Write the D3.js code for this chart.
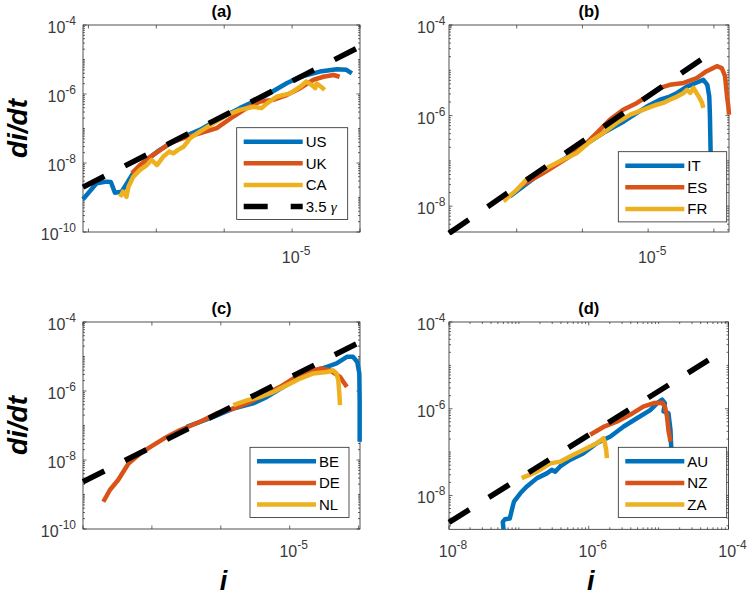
<!DOCTYPE html>
<html>
<head>
<meta charset="utf-8">
<script src="https://cdn.jsdelivr.net/npm/d3@7"></script>
<style>
  body { margin: 0; background: #fff; }
  svg { display: block; font-family: Helvetica, Arial, "Liberation Sans", sans-serif; }
</style>
</head>
<body>
<svg id="chart" width="747" height="598"></svg>
<script>
// points are [log10 i, log10 di/dt]
var US = [[-8.08,-9.05],[-7.88,-8.59],[-7.73,-8.54],[-7.67,-8.55],[-7.61,-8.86],[-7.51,-8.83],[-7.36,-8.35],[-7.14,-7.91],[-6.95,-7.62],[-6.70,-7.33],[-6.36,-7.04],[-6.06,-6.70],[-5.77,-6.41],[-5.42,-6.08],[-5.08,-5.69],[-4.88,-5.50],[-4.59,-5.35],[-4.34,-5.28],[-4.20,-5.30],[-4.12,-5.40]];
var UK = [[-7.36,-8.30],[-7.24,-8.06],[-7.09,-7.82],[-6.90,-7.57],[-6.81,-7.43],[-6.60,-7.28],[-6.36,-7.14],[-6.11,-6.99],[-5.87,-6.66],[-5.67,-6.41],[-5.47,-6.22],[-5.28,-6.17],[-5.08,-6.03],[-4.88,-5.83],[-4.69,-5.59],[-4.54,-5.50],[-4.39,-5.45],[-4.30,-5.50]];
var CA = [[-7.535,-8.98],[-7.49,-8.83],[-7.44,-8.98],[-7.41,-8.69],[-7.34,-8.40],[-7.24,-8.20],[-7.14,-8.06],[-7.07,-7.91],[-6.99,-8.06],[-6.90,-7.82],[-6.81,-7.67],[-6.75,-7.72],[-6.68,-7.62],[-6.60,-7.53],[-6.50,-7.28],[-6.36,-7.09],[-6.16,-6.85],[-5.96,-6.61],[-5.77,-6.46],[-5.57,-6.37],[-5.45,-6.41],[-5.37,-6.27],[-5.23,-6.08],[-5.03,-5.98],[-4.88,-5.79],[-4.79,-5.64],[-4.71,-5.74],[-4.66,-5.83],[-4.64,-5.69],[-4.56,-5.81],[-4.52,-5.88]];
var FIT_A = [[-8.08,-8.70],[-4.0,-4.63]];

var IT = [[-7.10,-7.78],[-6.695,-7.34],[-6.29,-6.97],[-5.88,-6.57],[-5.68,-6.38],[-5.37,-6.13],[-5.17,-5.94],[-5.02,-5.80],[-4.82,-5.65],[-4.67,-5.58],[-4.56,-5.50],[-4.41,-5.36],[-4.26,-5.27],[-4.16,-5.21],[-4.10,-5.32],[-4.07,-5.58],[-4.06,-6.02],[-4.05,-6.79],[-4.04,-7.85]];
var ES = [[-6.95,-7.56],[-6.595,-7.27],[-6.19,-6.90],[-5.99,-6.68],[-5.78,-6.38],[-5.58,-6.09],[-5.38,-5.87],[-5.17,-5.72],[-5.02,-5.58],[-4.82,-5.39],[-4.67,-5.32],[-4.46,-5.28],[-4.26,-5.17],[-4.11,-5.02],[-3.955,-4.91],[-3.88,-4.95],[-3.83,-5.13],[-3.80,-5.58],[-3.78,-5.80],[-3.77,-5.98]];
var FR = [[-7.20,-7.89],[-7.00,-7.64],[-6.85,-7.41],[-6.695,-7.27],[-6.49,-7.12],[-6.29,-6.97],[-6.09,-6.83],[-5.88,-6.57],[-5.68,-6.38],[-5.48,-6.16],[-5.27,-5.98],[-5.07,-5.87],[-4.87,-5.76],[-4.77,-5.72],[-4.67,-5.65],[-4.56,-5.58],[-4.46,-5.50],[-4.41,-5.43],[-4.36,-5.50],[-4.31,-5.39],[-4.23,-5.58],[-4.18,-5.72],[-4.16,-5.83]];
var FIT_B = [[-8.03,-8.60],[-4.16,-4.73]];

var BE = [[-6.495,-7.04],[-6.11,-6.75],[-5.82,-6.51],[-5.53,-6.36],[-5.33,-6.17],[-5.09,-5.88],[-4.85,-5.59],[-4.61,-5.40],[-4.46,-5.30],[-4.32,-5.20],[-4.17,-5.01],[-4.08,-5.01],[-4.02,-5.16],[-3.99,-5.49],[-3.985,-6.27],[-3.985,-7.47]];
var DE = [[-7.705,-9.21],[-7.61,-8.87],[-7.49,-8.58],[-7.34,-8.10],[-7.17,-7.81],[-6.98,-7.57],[-6.785,-7.33],[-6.59,-7.13],[-6.30,-6.89],[-6.06,-6.65],[-5.82,-6.51],[-5.58,-6.32],[-5.33,-6.07],[-5.14,-5.88],[-4.95,-5.64],[-4.75,-5.45],[-4.56,-5.35],[-4.415,-5.40],[-4.27,-5.59],[-4.22,-5.74],[-4.17,-5.88]];
var NL = [[-5.82,-6.41],[-5.62,-6.27],[-5.43,-6.17],[-5.24,-6.03],[-5.04,-5.83],[-4.85,-5.64],[-4.66,-5.49],[-4.46,-5.45],[-4.37,-5.40],[-4.32,-5.49],[-4.295,-5.69],[-4.28,-6.07],[-4.27,-6.41]];
var FIT_C = [[-8.0,-8.63],[-3.98,-4.58]];

var AU = [[-7.22,-8.78],[-7.23,-8.61],[-7.20,-8.55],[-7.13,-8.53],[-7.10,-8.33],[-7.07,-8.14],[-6.98,-7.95],[-6.89,-7.80],[-6.74,-7.60],[-6.60,-7.49],[-6.53,-7.41],[-6.48,-7.45],[-6.41,-7.33],[-6.27,-7.18],[-6.08,-7.03],[-5.88,-6.79],[-5.69,-6.64],[-5.50,-6.41],[-5.31,-6.22],[-5.12,-6.03],[-5.02,-5.87],[-4.95,-5.79],[-4.91,-5.87],[-4.93,-6.06],[-4.86,-6.10],[-4.83,-6.49],[-4.82,-6.87],[-4.82,-7.40]];
var NZ = [[-5.98,-6.60],[-5.79,-6.42],[-5.60,-6.30],[-5.41,-6.14],[-5.22,-5.95],[-5.07,-5.87],[-4.95,-5.86],[-4.91,-5.95],[-4.88,-6.18],[-4.86,-6.49],[-4.83,-6.76]];
var ZA = [[-6.96,-7.60],[-6.74,-7.45],[-6.55,-7.26],[-6.41,-7.22],[-6.27,-7.10],[-6.08,-6.95],[-5.88,-6.79],[-5.79,-6.68],[-5.77,-6.79],[-5.75,-6.95],[-5.74,-7.14]];
var FIT_D = [[-8.0,-8.62],[-4.24,-4.83]];

var COLORS = ['#0072BD', '#D95319', '#EDB120'];

// layout per subplot: box = [x0, y0, x1, y1] in px
var panels = [
  { title: '(a)', box: [83, 25, 360, 232], xExp: [-8.08, -4], yExp: [-10, -4],
    xMajor: [-8, -7, -6, -5, -4], xLab: [-5], xMinor: false, yLab: [-10, -8, -6, -4],
    names: ['US', 'UK', 'CA'], series: [US, UK, CA], fit: FIT_A, fitName: true,
    legend: [236.7, 127.7, 111], ylabel: true, xlabel: false, yGap: 7, xOff: 31 },
  { title: '(b)', box: [449, 25, 729, 232], xExp: [-8.03, -3.77], yExp: [-8.57, -4],
    xMajor: [-8, -7, -6, -5, -4], xLab: [-5], xMinor: false, yLab: [-8, -6, -4],
    names: ['IT', 'ES', 'FR'], series: [IT, ES, FR], fit: FIT_B, fitName: false,
    legend: [618.3, 151.7, 108.4], ylabel: false, xlabel: false, yGap: 3.5, xOff: 31 },
  { title: '(c)', box: [83, 322, 360, 529], xExp: [-8, -3.98], yExp: [-10, -4],
    xMajor: [-8, -7, -6, -5, -4], xLab: [-5], xMinor: false, yLab: [-10, -8, -6, -4],
    names: ['BE', 'DE', 'NL'], series: [BE, DE, NL], fit: FIT_C, fitName: false,
    legend: [250, 447.3, 99], ylabel: true, xlabel: true, yGap: 7, xOff: 27.5 },
  { title: '(d)', box: [449, 322, 728.5, 529.3], xExp: [-8, -4], yExp: [-8.78, -4],
    xMajor: [-8, -6, -4], xLab: [-8, -6, -4], xMinor: true, yLab: [-8, -6, -4],
    names: ['AU', 'NZ', 'ZA'], series: [AU, NZ, ZA], fit: FIT_D, fitName: false,
    legend: [618.3, 447.3, 108.4], ylabel: false, xlabel: true, yGap: 3.5, xOff: 27.5 }
];

var svg = d3.select('#chart');
var AXIS = '#262626';
var TICK_TXT = '#3a3a3a';

function pow10(e) { return Math.pow(10, e); }

function minorExps(lo, hi) {
  var out = [];
  for (var n = Math.floor(lo); n <= Math.ceil(hi); n++) {
    for (var k = 1; k <= 9; k++) {
      var e = n + Math.log10(k);
      if (e >= lo - 1e-9 && e <= hi + 1e-9) out.push(e);
    }
  }
  return out;
}

function expLabel(sel, e) {
  sel.append('tspan').text('10');
  sel.append('tspan').attr('dy', -8).attr('font-size', 12).text(String(e));
}

panels.forEach(function(p, pi) {
  var x0 = p.box[0], y0 = p.box[1], x1 = p.box[2], y1 = p.box[3];
  var x = d3.scaleLog().domain([pow10(p.xExp[0]), pow10(p.xExp[1])]).range([x0, x1]);
  var y = d3.scaleLog().domain([pow10(p.yExp[0]), pow10(p.yExp[1])]).range([y1, y0]);
  var g = svg.append('g');

  g.append('rect').attr('x', x0).attr('y', y0).attr('width', x1 - x0).attr('height', y1 - y0)
    .attr('fill', '#fff').attr('stroke', AXIS).attr('stroke-width', 0.8);

  // ticks (inside, mirrored on all four sides)
  var ticks = g.append('g').attr('stroke', AXIS).attr('stroke-width', 0.7);
  var yMinor = minorExps(p.yExp[0], p.yExp[1]).filter(function(e) { return p.yLab.indexOf(Math.round(e * 1000) / 1000) < 0; });
  yMinor.forEach(function(e) {
    var py = y(pow10(e));
    ticks.append('line').attr('x1', x0).attr('x2', x0 + 2).attr('y1', py).attr('y2', py);
    ticks.append('line').attr('x1', x1).attr('x2', x1 - 2).attr('y1', py).attr('y2', py);
  });
  p.yLab.forEach(function(e) {
    var py = y(pow10(e));
    ticks.append('line').attr('x1', x0).attr('x2', x0 + 3.5).attr('y1', py).attr('y2', py);
    ticks.append('line').attr('x1', x1).attr('x2', x1 - 3.5).attr('y1', py).attr('y2', py);
  });
  if (p.xMinor) {
    minorExps(p.xExp[0], p.xExp[1]).filter(function(e) { return p.xMajor.indexOf(Math.round(e * 1000) / 1000) < 0; })
      .forEach(function(e) {
        var px = x(pow10(e));
        ticks.append('line').attr('x1', px).attr('x2', px).attr('y1', y1).attr('y2', y1 - 2);
        ticks.append('line').attr('x1', px).attr('x2', px).attr('y1', y0).attr('y2', y0 + 2);
      });
  }
  p.xMajor.forEach(function(e) {
    var px = x(pow10(e));
    ticks.append('line').attr('x1', px).attr('x2', px).attr('y1', y1).attr('y2', y1 - 3.5);
    ticks.append('line').attr('x1', px).attr('x2', px).attr('y1', y0).attr('y2', y0 + 3.5);
  });

  // tick labels
  p.yLab.forEach(function(e) {
    var t = g.append('text').attr('x', x0 - p.yGap).attr('y', y(pow10(e)) + 8)
      .attr('text-anchor', 'end').attr('font-size', 16).attr('fill', TICK_TXT);
    expLabel(t, e);
  });
  p.xLab.forEach(function(e) {
    var t = g.append('text').attr('x', x(pow10(e)) + 4).attr('y', y1 + p.xOff)
      .attr('text-anchor', 'middle').attr('font-size', 16).attr('fill', TICK_TXT);
    expLabel(t, e);
  });

  // data
  var clipId = 'clip' + pi;
  svg.append('clipPath').attr('id', clipId).append('rect')
    .attr('x', x0 - 3).attr('y', y0 - 3).attr('width', x1 - x0 + 6).attr('height', y1 - y0 + 6);
  var line = d3.line().x(function(d) { return x(pow10(d[0])); }).y(function(d) { return y(pow10(d[1])); });
  var plot = g.append('g').attr('clip-path', 'url(#' + clipId + ')');
  p.series.forEach(function(s, si) {
    plot.append('path').datum(s).attr('d', line).attr('fill', 'none')
      .attr('stroke', COLORS[si]).attr('stroke-width', 4.5)
      .attr('stroke-linejoin', 'round').attr('stroke-linecap', 'butt');
  });
  plot.append('path').datum(p.fit).attr('d', line).attr('fill', 'none')
    .attr('stroke', '#000').attr('stroke-width', 5.5).attr('stroke-dasharray', '24,23');

  // title and axis labels
  g.append('text').attr('x', (x0 + x1) / 2).attr('y', y0 - 8).attr('text-anchor', 'middle')
    .attr('font-size', 16.5).attr('font-weight', 'bold').attr('fill', '#000').text(p.title);
  if (p.ylabel) {
    g.append('text').attr('transform', 'translate(27,' + ((y0 + y1) / 2) + ') rotate(-90)')
      .attr('text-anchor', 'middle').attr('font-size', 28).attr('font-weight', 'bold')
      .attr('font-style', 'italic').attr('fill', '#000').text('di/dt');
  }
  if (p.xlabel) {
    g.append('text').attr('x', (x0 + x1) / 2 + 2).attr('y', 590).attr('text-anchor', 'middle')
      .attr('font-size', 27).attr('font-weight', 'bold').attr('font-style', 'italic')
      .attr('fill', '#000').text('i');
  }

  // legend
  var rows = p.names.length + (p.fitName ? 1 : 0);
  var lx = p.legend[0], ly = p.legend[1], lw = p.legend[2];
  var lh = 14 + (rows - 1) * 21.6 + 13;
  var leg = g.append('g');
  leg.append('rect').attr('x', lx).attr('y', ly).attr('width', lw).attr('height', lh)
    .attr('fill', '#fff').attr('stroke', AXIS).attr('stroke-width', 0.8);
  var entries = p.names.map(function(n, i) { return { name: n, color: COLORS[i], dash: null }; });
  if (p.fitName) entries.push({ name: '3.5 ', color: '#000', dash: '24,23', gamma: true });
  entries.forEach(function(en, i) {
    var ry = ly + 14 + i * 21.6;
    leg.append('line').attr('x1', lx + 7).attr('x2', lx + 66).attr('y1', ry).attr('y2', ry)
      .attr('stroke', en.color).attr('stroke-width', en.dash ? 5.5 : 4.5)
      .attr('stroke-dasharray', en.dash);
    var t = leg.append('text').attr('x', lx + 69).attr('y', ry + 5.5)
      .attr('font-size', 15).attr('fill', '#000');
    t.append('tspan').text(en.name);
    if (en.gamma) {
      t.append('tspan').attr('font-family', '"Liberation Serif", "DejaVu Serif", serif')
        .attr('font-style', 'italic').text('\u03b3');
    }
  });
});
</script>
</body>
</html>
